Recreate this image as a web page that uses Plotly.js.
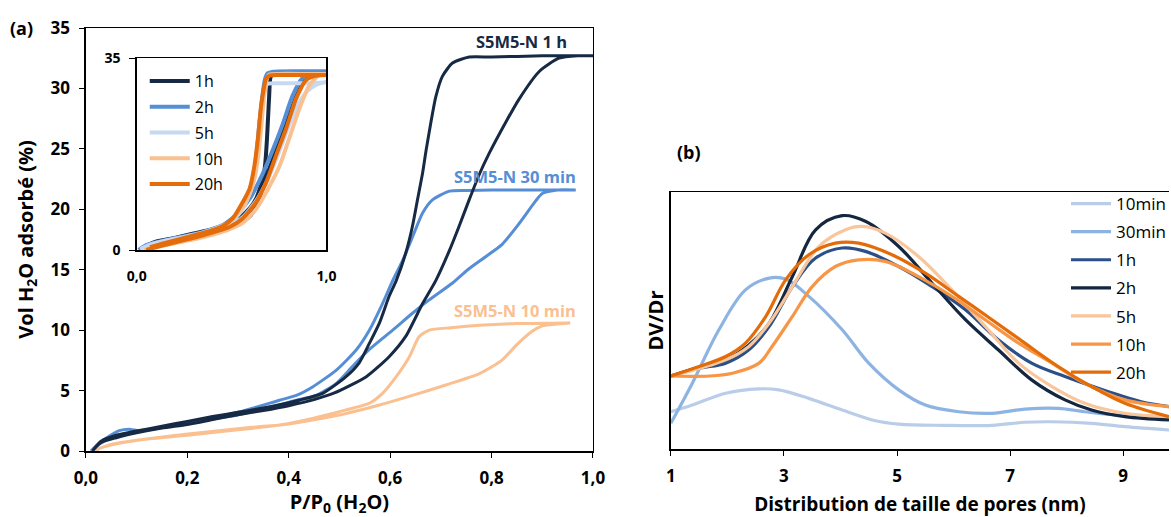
<!DOCTYPE html>
<html>
<head>
<meta charset="utf-8">
<script src="https://cdn.plot.ly/plotly-3.0.1.min.js"></script>
<style>html,body{margin:0;padding:0;background:#fff;}#chart{width:1171px;height:517px;}</style>
</head>
<body>
<div id="chart"></div>
<script>
// ---------- Panel (a): main isotherms (adsorption then desorption) ----------
const p_1h_ads = [0.013,0.03,0.06,0.1,0.15,0.2,0.25,0.3,0.35,0.4,0.45,0.49,0.553,0.598,0.631,0.664,0.69,0.717,0.736,0.756,0.776,0.795,0.828,0.854,0.894,0.933,0.97,1.0];
const v_1h_ads = [0,0.7,1.1,1.5,1.9,2.2,2.6,3.0,3.35,3.75,4.25,4.8,6.15,7.8,9.5,12.2,14.1,16.6,18.6,20.8,22.9,24.6,27.2,29.1,31.4,32.5,32.7,32.7];
const p_1h_des = [0.99,0.9,0.8,0.756,0.723,0.703,0.69,0.68,0.671,0.664,0.654,0.644,0.631,0.612,0.598,0.579,0.559,0.539,0.513,0.467,0.42,0.38,0.3,0.25,0.2,0.15,0.1,0.06,0.03,0.015];
const v_1h_des = [32.7,32.7,32.6,32.6,32.1,31.0,29.3,27.1,24.9,23.0,20.8,18.6,16.4,14.1,12.8,10.6,8.9,7.3,6.15,4.77,4.2,3.8,3.2,2.85,2.45,2.05,1.65,1.3,0.8,0.1];

const p_30min_ads = [0.01,0.025,0.045,0.066,0.085,0.105,0.131,0.2,0.3,0.38,0.415,0.454,0.494,0.526,0.559,0.605,0.644,0.677,0.723,0.753,0.789,0.821,0.854,0.887,0.90,0.93,0.966];
const v_30min_ads = [0,0.6,1.2,1.68,1.8,1.68,1.8,2.3,3.0,3.8,4.2,4.6,5.6,7.0,8.4,10.0,11.4,12.5,13.9,15.0,16.1,17.1,18.8,20.7,21.3,21.6,21.6];
const p_30min_des = [0.966,0.9,0.8,0.75,0.717,0.684,0.664,0.644,0.625,0.605,0.585,0.559,0.533,0.494,0.447,0.415,0.382,0.3,0.2,0.1,0.05,0.02];
const v_30min_des = [21.6,21.6,21.6,21.55,21.5,20.8,19.7,17.7,15.8,14.1,12.2,10.0,8.36,6.7,5.3,4.6,4.2,3.2,2.35,1.6,1.1,0.4];

const p_10min_ads = [0.02,0.026,0.066,0.131,0.197,0.262,0.328,0.394,0.447,0.513,0.579,0.644,0.71,0.776,0.82,0.85,0.88,0.90,0.93,0.955];
const v_10min_ads = [0,0.2,0.63,1.05,1.38,1.68,1.96,2.2,2.56,3.1,3.8,4.6,5.46,6.4,7.5,8.8,9.9,10.35,10.5,10.6];
const p_10min_des = [0.955,0.85,0.776,0.72,0.677,0.657,0.638,0.612,0.585,0.559,0.513,0.447,0.382,0.3,0.2,0.1,0.05,0.025];
const v_10min_des = [10.6,10.55,10.4,10.2,10.0,9.46,7.8,6.15,4.77,3.95,3.4,2.7,2.15,1.75,1.3,0.9,0.55,0.2];

// ---------- Panel (a) inset ----------
const inset_names = ["1h","2h","5h","10h","20h"];
const in_1h_p_ads = [0.02,0.1,0.2,0.3,0.4,0.49,0.55,0.6,0.63,0.66,0.69,0.72,0.75,0.78,0.8,0.83,0.86,0.89,0.92,0.95,1.0];
const in_1h_v_ads = [0,1.5,2.2,3.0,3.8,4.8,6.1,7.8,9.4,12.2,14.1,16.8,19.5,22.5,24.2,27.0,29.4,31.2,32.0,32.3,32.4];
const in_1h_p_des = [1.0,0.8,0.72,0.705,0.698,0.692,0.686,0.678,0.668,0.655,0.64,0.62,0.6,0.57,0.53,0.47,0.4,0.3,0.2,0.1,0.03];
const in_1h_v_des = [32.3,32.3,32.2,31.5,28.0,24.0,20.0,16.0,13.0,10.5,8.7,7.3,6.3,5.4,4.6,4.0,3.5,2.8,2.2,1.5,0.4];

const in_2h_p_ads = [0.01,0.05,0.1,0.156,0.25,0.33,0.42,0.47,0.53,0.6,0.66,0.72,0.77,0.82,0.87,0.92,1.0];
const in_2h_v_ads = [0,0.9,1.4,1.8,2.4,3.0,3.9,4.9,6.6,9.6,13.6,18.5,23.0,28.0,31.2,32.3,32.6];
const in_2h_p_des = [1.0,0.85,0.72,0.69,0.675,0.66,0.645,0.63,0.61,0.58,0.55,0.5,0.45,0.35,0.25,0.15,0.06,0.02];
const in_2h_v_des = [32.6,32.6,32.5,32.2,31.0,27.5,22.5,17.0,12.5,9.5,7.3,5.5,4.5,3.3,2.5,1.8,1.0,0.3];

const in_5h_p_ads = [0.02,0.08,0.156,0.25,0.33,0.42,0.49,0.56,0.63,0.69,0.74,0.8,0.85,0.9,0.95,1.0];
const in_5h_v_ads = [0,0.9,1.5,2.2,2.8,3.6,4.5,6.0,9.0,12.8,17.0,22.5,26.5,29.0,30.2,30.6];
const in_5h_p_des = [1.0,0.9,0.75,0.69,0.675,0.66,0.645,0.63,0.61,0.58,0.55,0.5,0.45,0.35,0.25,0.15,0.07,0.02];
const in_5h_v_des = [30.6,30.4,30.4,30.3,29.5,26.0,21.5,16.5,12.0,9.0,7.0,5.3,4.4,3.2,2.4,1.7,1.0,0.2];

const in_10h_p_ads = [0.04,0.1,0.156,0.25,0.33,0.42,0.49,0.56,0.63,0.69,0.755,0.81,0.86,0.91,0.96,1.0];
const in_10h_v_ads = [0,0.5,0.9,1.6,2.2,3.0,3.8,5.0,7.5,11.0,15.5,21.0,26.0,30.0,31.8,32.1];
const in_10h_p_des = [1.0,0.9,0.75,0.7,0.688,0.67,0.655,0.64,0.62,0.59,0.55,0.5,0.45,0.35,0.25,0.15,0.08];
const in_10h_v_des = [32.1,32.1,32.1,32.0,31.4,27.5,22.0,17.0,13.0,9.8,7.4,5.4,4.2,3.0,2.1,1.3,0.6];

const in_20h_p_ads = [0.05,0.1,0.156,0.25,0.33,0.42,0.489,0.56,0.63,0.683,0.735,0.788,0.84,0.893,0.95,1.0];
const in_20h_v_ads = [0,0.5,1.0,1.8,2.5,3.4,4.2,5.8,8.8,12.4,17.3,22.2,27.6,31.0,31.8,31.9];
const in_20h_p_des = [1.0,0.9,0.75,0.7,0.683,0.656,0.639,0.621,0.595,0.56,0.507,0.45,0.35,0.25,0.15,0.07];
const in_20h_v_des = [31.9,31.9,31.9,31.8,31.3,26.4,20.4,15.5,11.2,8.8,5.8,4.3,3.1,2.2,1.3,0.5];

// ---------- Panel (b): pore size distributions ----------
const psd_names = ["10min","30min","1h","2h","5h","10h","20h"];
const d_10min = [1,1.38,1.97,2.56,2.91,3.44,4.03,4.62,5.03,5.79,6.68,7.26,7.74,8.44,9.03,9.81];
const f_10min = [0.145,0.171,0.217,0.234,0.23,0.197,0.152,0.11,0.097,0.092,0.092,0.104,0.106,0.1,0.087,0.074];
const d_30min = [1,1.38,1.85,2.32,2.74,3.03,3.44,4.03,4.5,5.03,5.5,6.09,6.68,7.26,7.85,8.32,8.91,9.81];
const f_30min = [0.1,0.256,0.464,0.619,0.665,0.661,0.594,0.464,0.334,0.23,0.171,0.145,0.139,0.155,0.158,0.145,0.132,0.126];
const d_1h = [1,1.5,1.97,2.38,2.74,3.15,3.56,4.03,4.44,5.03,5.62,6.21,6.79,7.38,7.97,8.74,9.32,9.81];
const f_1h = [0.284,0.314,0.334,0.386,0.477,0.632,0.743,0.782,0.769,0.71,0.632,0.542,0.425,0.334,0.282,0.223,0.184,0.165];
const d_2h = [1,1.5,1.97,2.38,2.74,3.15,3.56,4.03,4.44,5.03,5.62,6.21,6.79,7.38,7.97,8.44,9.03,9.81];
const f_2h = [0.284,0.318,0.347,0.405,0.49,0.671,0.853,0.908,0.886,0.788,0.645,0.503,0.386,0.269,0.191,0.152,0.126,0.113];
const d_5h = [1,1.97,2.38,2.74,3.15,3.62,4.09,4.38,4.79,5.38,5.97,6.56,7.15,7.74,8.32,9.03,9.81];
const f_5h = [0.284,0.347,0.399,0.49,0.632,0.788,0.853,0.866,0.84,0.749,0.619,0.477,0.334,0.243,0.178,0.139,0.126];
const d_10h = [1,1.68,2.09,2.56,2.79,3.15,3.5,3.91,4.32,4.79,5.38,5.97,6.56,7.15,7.74,8.32,9.03,9.81];
const f_10h = [0.284,0.284,0.295,0.334,0.399,0.516,0.632,0.71,0.736,0.73,0.671,0.594,0.503,0.412,0.334,0.256,0.191,0.165];
const d_20h = [1,1.5,1.97,2.32,2.68,3.03,3.44,3.91,4.32,4.91,5.5,6.09,6.68,7.26,7.85,8.44,9.03,9.81];
const f_20h = [0.284,0.321,0.36,0.412,0.516,0.658,0.756,0.801,0.801,0.756,0.684,0.594,0.503,0.412,0.321,0.243,0.178,0.126];

// ---------- styling ----------
const FONT = "'Open Sans', 'Noto Sans', sans-serif";
const C = {navy:"#172A45", blue:"#558ED5", lblue:"#C6D9F1", lorange:"#FAC090", orange:"#E46C0A",
           b10min:"#B9CDE8", b30min:"#8DB3E2", b1h:"#2B5088", b2h:"#142640", b5h:"#F9C59A", b10h:"#F79646", b20h:"#E36C09"};

const traces = [];
function loop(px, vy, pd, vd, color, w, xa, ya){
  return {x: px.concat(pd), y: vy.concat(vd), xaxis: xa, yaxis: ya, mode: "lines",
          line: {color: color, width: w, shape: "spline", smoothing: 0.6}, showlegend: false, hoverinfo: "skip"};
}
traces.push(loop(p_10min_ads, v_10min_ads, p_10min_des, v_10min_des, C.lorange, 3, "x", "y"));
traces.push(loop(p_30min_ads, v_30min_ads, p_30min_des, v_30min_des, C.blue, 3, "x", "y"));
traces.push(loop(p_1h_ads, v_1h_ads, p_1h_des, v_1h_des, C.navy, 3, "x", "y"));

const insetData = [
  [in_1h_p_ads,in_1h_v_ads,in_1h_p_des,in_1h_v_des,C.navy],
  [in_2h_p_ads,in_2h_v_ads,in_2h_p_des,in_2h_v_des,C.blue],
  [in_5h_p_ads,in_5h_v_ads,in_5h_p_des,in_5h_v_des,C.lblue],
  [in_10h_p_ads,in_10h_v_ads,in_10h_p_des,in_10h_v_des,C.lorange],
  [in_20h_p_ads,in_20h_v_ads,in_20h_p_des,in_20h_v_des,C.orange]
];
insetData.forEach((d,i)=>{
  const t = loop(d[0],d[1],d[2],d[3],d[4],4,"x2","y2");
  t.name = inset_names[i]; t.showlegend = true; t.legend = "legend"; t.legendgroup = "in"+i;
  traces.push(t);
});

const psd = [[d_10min,f_10min,C.b10min],[d_30min,f_30min,C.b30min],[d_1h,f_1h,C.b1h],[d_2h,f_2h,C.b2h],
             [d_5h,f_5h,C.b5h],[d_10h,f_10h,C.b10h],[d_20h,f_20h,C.b20h]];
psd.forEach((d,i)=>{
  traces.push({x:d[0], y:d[1], xaxis:"x3", yaxis:"y3", mode:"lines", name: psd_names[i],
    line:{color:d[2], width:3.2, shape:"spline", smoothing:1}, legend:"legend2", legendgroup:"b"+i, hoverinfo:"skip"});
});

const W = 1171, H = 517;
const px = v => v / W, py = v => 1 - v / H;
const tickFont = {family: FONT, size: 17, color: "#000", weight: 700};
const insetTickFont = {family: FONT, size: 14, color: "#000", weight: 700};
const axisBase = {showgrid:false, zeroline:false, showline:true, linecolor:"#000", linewidth:1.5,
  ticks:"outside", ticklen:5, tickwidth:1, tickcolor:"#000", tickfont: tickFont, automargin:false, fixedrange:true};
const titleFont = {family:FONT, size:20, weight:700, color:"#000"};

const layout = {
  width: W, height: H, margin:{l:0,r:0,t:0,b:0}, paper_bgcolor:"#fff", plot_bgcolor:"#fff",
  separators: ", ", font:{family: FONT, color:"#000"},
  xaxis: Object.assign({}, axisBase, {domain:[px(86), px(594)], range:[0,1], dtick:0.2, tick0:0, tickformat:".1f", mirror:true, anchor:"y",
    ticklabelstandoff:6, title:{text:"P/P<sub>0</sub> (H<sub>2</sub>O)", font:titleFont, standoff:20}}),
  yaxis: Object.assign({}, axisBase, {domain:[py(451), py(28)], range:[0,35], dtick:5, mirror:true, anchor:"x",
    ticklabelstandoff:6, title:{text:"Vol H<sub>2</sub>O adsorbé (%)", font:titleFont, standoff:11}}),
  xaxis2: Object.assign({}, axisBase, {domain:[px(137), px(327)], range:[0,1], tickvals:[0,1], tickformat:".1f", mirror:true, anchor:"y2", ticks:"", ticklen:0, ticklabelstandoff:13, tickfont: insetTickFont}),
  yaxis2: Object.assign({}, axisBase, {domain:[py(250), py(58)], range:[0,35], tickvals:[0,35], mirror:true, anchor:"x2", ticklen:6, ticklabelstandoff:6, tickfont: insetTickFont}),
  xaxis3: Object.assign({}, axisBase, {domain:[px(672), 1], range:[1,9.81], tickvals:[1,3,5,7,9], mirror:true, anchor:"y3",
    ticklabelstandoff:6, title:{text:"Distribution de taille de pores (nm)", font:{family:FONT, size:19, weight:700, color:"#000"}, standoff:15}}),
  yaxis3: Object.assign({}, axisBase, {domain:[py(449), py(192)], range:[0,1], showticklabels:false, ticks:"", mirror:false, anchor:"x3",
    title:{text:"DV/Dr", font:titleFont, standoff:0}}),
  legend: {x: px(145), y: py(64), xanchor:"left", yanchor:"top", bgcolor:"rgba(0,0,0,0)", borderwidth:0,
    font:{family:FONT, size:16, color:"#000"}, itemwidth:40, tracegroupgap:2, traceorder:"grouped"},
  legend2: {x: px(1068), y: py(186), xanchor:"left", yanchor:"top", bgcolor:"rgba(0,0,0,0)", borderwidth:0,
    font:{family:FONT, size:17, color:"#000"}, itemwidth:40, tracegroupgap:3, traceorder:"grouped"},
  annotations: [
    {text:"(a)", xref:"paper", yref:"paper", x:px(22), y:py(28), xanchor:"center", yanchor:"middle", showarrow:false, font:{family:FONT,size:18,weight:700,color:"#000"}},
    {text:"(b)", xref:"paper", yref:"paper", x:px(690), y:py(152), xanchor:"center", yanchor:"middle", showarrow:false, font:{family:FONT,size:18,weight:700,color:"#000"}},
    {text:"S5M5-N 1 h", xref:"paper", yref:"paper", x:px(522), y:py(41), xanchor:"center", yanchor:"middle", showarrow:false, font:{family:FONT,size:16.5,weight:700,color:C.navy}},
    {text:"S5M5-N 30 min", xref:"paper", yref:"paper", x:px(516), y:py(176), xanchor:"center", yanchor:"middle", showarrow:false, font:{family:FONT,size:16.5,weight:700,color:C.blue}},
    {text:"S5M5-N 10 min", xref:"paper", yref:"paper", x:px(516), y:py(310), xanchor:"center", yanchor:"middle", showarrow:false, font:{family:FONT,size:16.5,weight:700,color:C.lorange}}
  ]
};

Plotly.newPlot("chart", traces, layout, {staticPlot:true, displayModeBar:false});
</script>
</body>
</html>
